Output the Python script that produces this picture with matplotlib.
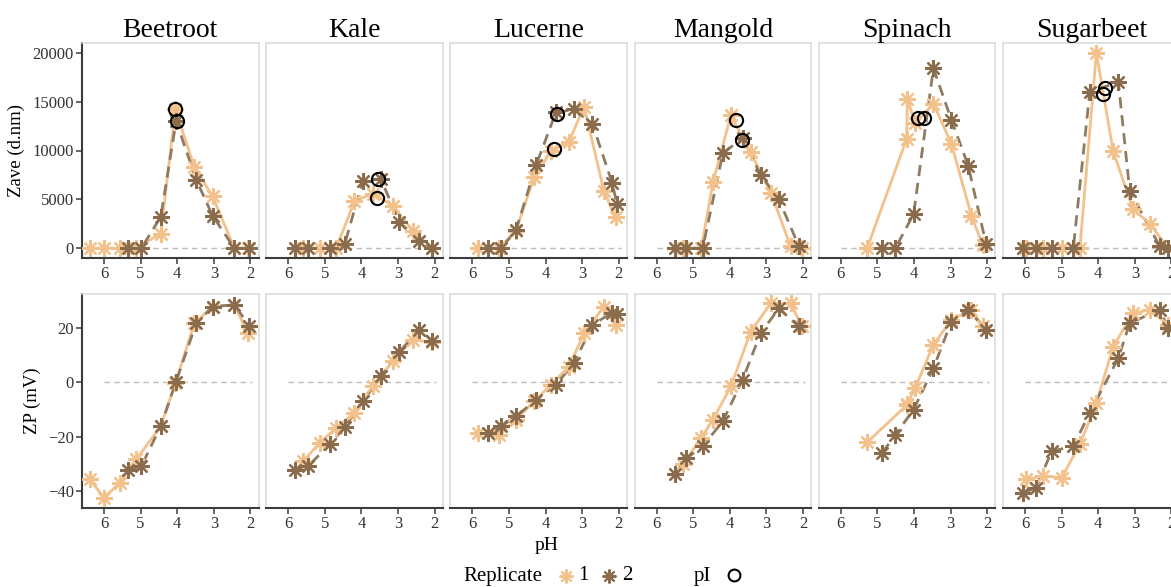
import matplotlib
matplotlib.use("Agg")
import matplotlib.pyplot as plt

plt.rcParams['font.family'] = ['Liberation Serif', 'DejaVu Serif']

# data (pH, Zave in d.nm, ZP in mV)
crops = ['Beetroot', 'Kale', 'Lucerne', 'Mangold', 'Spinach', 'Sugarbeet']

ph1 = [[6.39, 6.0, 5.57, 5.12, 4.45, 4.05, 3.53, 3.03, 2.44, 2.07],
       [5.59, 5.14, 4.69, 4.19, 3.69, 3.15, 2.6, 2.06],
       [5.85, 5.26, 4.81, 4.31, 3.86, 3.36, 2.95, 2.41, 2.09],
       [5.28, 4.78, 4.46, 3.97, 3.43, 2.88, 2.34, 2.03],
       [5.28, 4.2, 4.18, 3.97, 3.47, 2.98, 2.43, 2.12],
       [5.97, 5.5, 5.0, 4.5, 4.05, 3.59, 3.05, 2.59, 2.09]]
zave1 = [[0, 0, 0, 0, 1500, 14200, 8300, 5300, 0, 0],
         [0, 0, 0, 4800, 5600, 4350, 1800, 0],
         [0, 0, 1800, 7300, 9900, 10900, 14500, 5900, 3150],
         [0, 0, 6750, 13600, 9800, 5700, 200, 0],
         [0, 11200, 15300, 12800, 14800, 10700, 3300, 300],
         [0, 0, 0, 0, 20000, 9900, 4000, 2500, 0]]
zp1 = [[-35.7, -42.4, -37.0, -28.4, -16.2, -0.4, 21.6, 27.7, 28.3, 17.9],
       [-29.0, -22.3, -16.8, -11.3, -1.6, 7.6, 15.5, 14.6],
       [-18.7, -19.3, -13.8, -7.1, -1.0, 5.7, 17.9, 27.7, 21.0],
       [-30.2, -20.5, -13.8, -1.6, 18.5, 28.9, 28.9, 20.4],
       [-22.1, -8.5, -8.0, -2.2, 13.7, 22.8, 26.5, 20.4],
       [-35.7, -34.5, -35.1, -22.9, -7.7, 13.0, 25.2, 26.5, 21.0]]

ph2 = [[5.35, 4.98, 4.45, 4.03, 3.48, 3.03, 2.44, 2.03],
       [5.82, 5.46, 4.87, 4.46, 3.96, 3.47, 2.97, 2.43, 2.06],
       [5.57, 5.21, 4.81, 4.26, 3.72, 3.22, 2.72, 2.18, 2.05],
       [5.5, 5.19, 4.74, 4.19, 3.65, 3.16, 2.66, 2.12],
       [4.87, 4.51, 4.01, 3.47, 2.98, 2.52, 2.03],
       [6.05, 5.7, 5.27, 4.68, 4.23, 3.45, 3.14, 2.32, 2.09]]
zave2 = [[0, 0, 3200, 13000, 7000, 3300, 0, 0],
         [0, 0, 0, 400, 6900, 7100, 2700, 750, 0],
         [0, 0, 1850, 8500, 13900, 14200, 12700, 6650, 4500],
         [0, 0, 0, 9700, 11300, 7500, 5000, 250],
         [0, 0, 3500, 18400, 13150, 8450, 400],
         [0, 0, 0, 0, 16000, 17000, 5900, 200, 0]]
zp2 = [[-32.4, -30.9, -16.2, 0.2, 21.6, 27.7, 28.3, 20.7],
       [-32.4, -30.9, -22.9, -16.6, -7.1, 2.1, 11.0, 19.1, 15.1],
       [-18.7, -16.2, -12.6, -6.5, -1.0, 7.0, 21.0, 25.5, 25.0],
       [-33.9, -28.0, -23.5, -14.4, 0.9, 17.9, 27.0, 20.4],
       [-26.0, -19.3, -10.1, 5.1, 22.2, 26.5, 19.1],
       [-40.6, -38.8, -25.4, -23.5, -11.3, 8.8, 21.6, 26.5, 19.8]]

# isoelectric points (pH, Zave) for replicate 1 and 2
pi_ph = [[4.05, 4.0], [3.58, 3.55], [3.76, 3.7], [3.83, 3.68], [3.88, 3.72], [3.88, 3.82]]
pi_zave = [[14200, 13000], [5150, 7100], [10200, 13700], [13100, 11100], [13350, 13350], [15800, 16350]]

light = '#F3C18B'
dark = '#8A6C4C'
dline = '#8F7A62'
border = '#D9D9D9'
axcol = '#3C3C3C'

W, H = 1171, 587
fig = plt.figure(figsize=(W / 100, H / 100), dpi=100)

left0, step, pw = 82, 184.2, 176.5
rows = [(43, 258), (294, 508)]


def star(ax, x, y, col, size=12, lw=1.6, z=3):
    ax.plot(x, y, ls='none', marker=(8, 2, 0), ms=size, mec=col, mew=lw, zorder=z)


for i, crop in enumerate(crops):
    x0 = left0 + i * step
    for r, (top, bot) in enumerate(rows):
        ax = fig.add_axes([x0 / W, 1 - bot / H, pw / W, (bot - top) / H])
        if r == 0:
            y1, y2 = zave1[i], zave2[i]
        else:
            y1, y2 = zp1[i], zp2[i]
        ax.plot([6, 1.95], [0, 0], color='#BDBDBD', lw=1, dashes=(4, 3), zorder=1)
        ax.plot(ph1[i], y1, color=light, lw=2, solid_capstyle='butt', zorder=2)
        ax.plot(ph2[i], y2, color=dline, lw=2, dashes=(4, 2.5), zorder=2)
        star(ax, ph1[i], y1, light)
        star(ax, ph2[i], y2, dark, z=4)
        if r == 0:
            ax.plot(pi_ph[i], pi_zave[i], ls='none', marker='o', ms=9.5, mfc='none',
                    mec='black', mew=1.5, zorder=5)
            ax.set_ylim(-1000, 21000)
            ax.set_yticks([0, 5000, 10000, 15000, 20000])
            ax.set_title(crop, fontsize=20, pad=4)
        else:
            ax.set_ylim(-46.2, 32.3)
            ax.set_yticks([-40, -20, 0, 20])
        ax.set_xlim(6.6, 1.78)
        ax.set_xticks([6, 5, 4, 3, 2])
        for s in ['top', 'right', 'left']:
            ax.spines[s].set_color(border)
            ax.spines[s].set_linewidth(1.1)
        ax.spines['bottom'].set_color(axcol)
        ax.spines['bottom'].set_linewidth(1.5)
        ax.tick_params(axis='both', direction='out', length=4, width=1.1, color=axcol,
                       labelsize=12, labelcolor='#333333', pad=2)
        if i == 0:
            ax.spines['left'].set_color(axcol)
            ax.spines['left'].set_linewidth(1.5)
            ax.set_ylabel('Zave (d.nm)' if r == 0 else 'ZP (mV)', fontsize=13.5, labelpad=5)
        else:
            ax.tick_params(axis='y', left=False, labelleft=False)

fig.text(547 / W, 1 - 545 / H, 'pH', fontsize=14, ha='center', va='center')

# legend row
lg = fig.add_axes([0, 0, 1, 1])
lg.set_xlim(0, W)
lg.set_ylim(H, 0)
lg.axis('off')
lg.text(463, 576, 'Replicate', fontsize=15, va='center', ha='left')
star(lg, [566], [576], light, size=10, lw=1.5)
lg.text(578, 576, '1', fontsize=15, va='center', ha='left')
star(lg, [609], [576], dark, size=10, lw=1.5)
lg.text(622, 576, '2', fontsize=15, va='center', ha='left')
lg.text(694, 576, 'pI', fontsize=15, va='center', ha='left')
lg.plot([734], [575], ls='none', marker='o', ms=8.5, mfc='none', mec='black', mew=1.5)

fig.savefig('out.png', dpi=100)
